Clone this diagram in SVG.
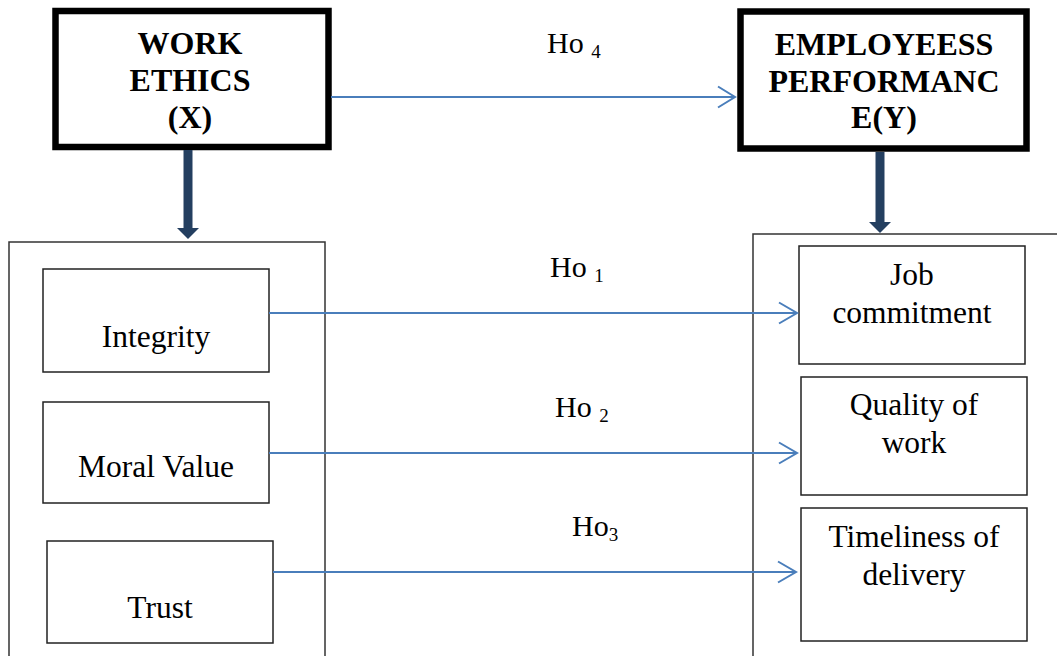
<svg xmlns="http://www.w3.org/2000/svg" width="1057" height="656" viewBox="0 0 1057 656">
<defs>
<style>
text{font-family:'Liberation Serif','Times New Roman','DejaVu Serif',serif}
.main{fill:#fff;stroke:#000;stroke-width:6.5}
.cont{fill:none;stroke:#333;stroke-width:1.5}
.sub{fill:#fff;stroke:#222;stroke-width:1.5}
.tb{font-weight:bold;font-size:32px;fill:#000;text-anchor:middle}
.t{font-size:31.5px;fill:#000;text-anchor:middle}
.ho{font-size:30px;fill:#000}
.hs{font-size:19px}
.link{stroke:#4A7EBB;stroke-width:2;fill:none}
.head{stroke:#4A7EBB;stroke-width:2;fill:none}
.dark{stroke:#243F60;stroke-width:9}
</style>
</defs>
<g id="leftContainer"><rect class="cont" x="9" y="242" width="316" height="430"/></g>
<g id="rightContainer"><rect class="cont" x="753" y="234" width="320" height="440"/></g>
<g id="workEthics">
<rect class="main" x="55.5" y="11" width="273" height="136"/>
<text class="tb" x="190" y="54">WORK</text>
<text class="tb" x="190" y="91">ETHICS</text>
<text class="tb" x="190" y="128">(X)</text>
</g>
<g id="employeePerformance">
<rect class="main" x="740.5" y="11.5" width="286" height="137"/>
<text class="tb" x="884" y="55">EMPLOYEESS</text>
<text class="tb" x="884" y="92">PERFORMANC</text>
<text class="tb" x="884" y="128">E(Y)</text>
</g>
<g id="integrity"><rect class="sub" x="43" y="269" width="226" height="103"/><text class="t" x="156" y="347">Integrity</text></g>
<g id="moralValue"><rect class="sub" x="43" y="402" width="226" height="101"/><text class="t" x="156" y="477">Moral Value</text></g>
<g id="trust"><rect class="sub" x="47" y="541" width="226" height="102"/><text class="t" x="160" y="618">Trust</text></g>
<g id="jobCommitment"><rect class="sub" x="799" y="246" width="226" height="118"/><text class="t" x="912" y="285">Job</text><text class="t" x="912" y="323">commitment</text></g>
<g id="qualityOfWork"><rect class="sub" x="801" y="377" width="226" height="118"/><text class="t" x="914" y="415">Quality of</text><text class="t" x="914" y="453">work</text></g>
<g id="timeliness"><rect class="sub" x="801" y="508" width="226" height="133"/><text class="t" x="914" y="547">Timeliness of</text><text class="t" x="914" y="585">delivery</text></g>
<g id="connectors">
<line class="dark" x1="188" y1="150" x2="188" y2="229"/>
<polygon points="177,228 199,228 188,239" fill="#243F60"/>
<line class="dark" x1="880" y1="152" x2="880" y2="223"/>
<polygon points="869,222 891,222 880,233" fill="#243F60"/>
<line class="link" x1="331" y1="97" x2="734" y2="97"/>
<polyline class="head" points="718,86.5 735,97 718,107.5"/>
<line class="link" x1="269" y1="313" x2="796" y2="313"/>
<polyline class="head" points="779,302.5 797,313 779,323.5"/>
<line class="link" x1="269" y1="453" x2="796" y2="453"/>
<polyline class="head" points="779,442.5 797,453 779,463.5"/>
<line class="link" x1="273" y1="572" x2="795" y2="572"/>
<polyline class="head" points="778,561.5 796,572 778,582.5"/>
</g>
<g id="labels">
<text class="ho" x="547" y="53">Ho <tspan class="hs" dy="5">4</tspan></text>
<text class="ho" x="550" y="277">Ho <tspan class="hs" dy="5">1</tspan></text>
<text class="ho" x="555" y="417">Ho <tspan class="hs" dy="5">2</tspan></text>
<text class="ho" x="572" y="536">Ho<tspan class="hs" dy="5">3</tspan></text>
</g>
</svg>
